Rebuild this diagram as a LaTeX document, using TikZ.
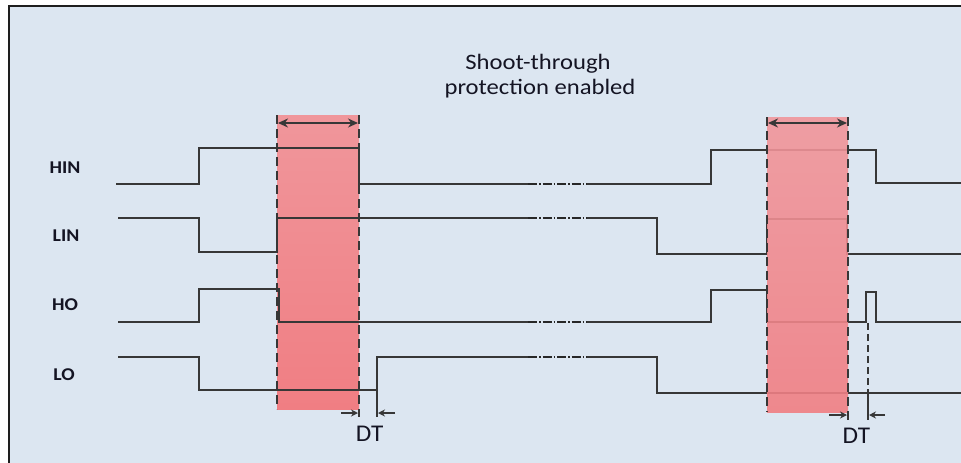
\documentclass[tikz,border=0pt]{standalone}
\usepackage{fontspec}
\setmainfont{Carlito}
\usetikzlibrary{arrows.meta}
\definecolor{bg}{RGB}{220,230,241}
\definecolor{sig}{RGB}{55,55,55}
\definecolor{bandtop}{RGB}{240,150,155}
\definecolor{bandbot}{RGB}{240,126,131}
\definecolor{txt}{RGB}{20,20,35}
\definecolor{frame}{RGB}{30,30,30}
\begin{document}
\begin{tikzpicture}[x=1pt,y=-1pt,
  signal/.style={draw=sig, line width=1.4pt, line join=miter},
  brk/.style={draw=sig!70!black, line width=1.5pt, dash pattern=on 9pt off 2pt on 1.5pt off 2pt},
  bandedge/.style={draw=sig, line width=1.8pt, dash pattern=on 9pt off 5pt},
  bandfill/.style={top color=bandtop, bottom color=bandbot, draw=none},
  span/.style={draw=sig, line width=1.4pt, {Stealth[length=10pt,width=9pt]}-{Stealth[length=10pt,width=9pt]}},
  dtarrow/.style={draw=sig, line width=1.4pt, -{Stealth[length=7pt,width=7pt]}},
  lab/.style={font=\fontsize{18}{20}\selectfont\bfseries, text=txt, inner sep=0pt, anchor=base},
  ttl/.style={font=\fontsize{22}{24}\selectfont, text=txt, inner sep=0pt, anchor=base},
  dtl/.style={font=\fontsize{24}{26}\selectfont, text=txt, inner sep=0pt, anchor=base}
]
\useasboundingbox (0,0) rectangle (961,463);
\fill[white] (0,0) rectangle (961,463);
\fill[bg] (9,6) rectangle (961,463);
\draw[frame, line width=2pt] (9,463) -- (9,6) -- (961,6);

% band 1 (behind signals)
\shade[bandfill] (277,115) rectangle (359,409);

% HIN
\draw[signal] (116,184) -- (199,184) -- (199,148) -- (359,148) -- (359,184) -- (528,184);
\draw[brk] (528,184) -- (587,184);
\draw[signal] (587,184) -- (711,184) -- (711,150) -- (876,150) -- (876,183) -- (961,183);
% LIN
\draw[signal] (118,218) -- (199,218) -- (199,252) -- (277,252) -- (277,218) -- (528,218);
\draw[brk] (528,218) -- (587,218);
\draw[signal] (587,218) -- (657,218) -- (657,254) -- (767,254) -- (767,219) -- (847,219) -- (847,254) -- (961,254);
% HO
\draw[signal] (118,322) -- (199,322) -- (199,289) -- (279,289) -- (279,322) -- (528,322);
\draw[brk] (528,322) -- (587,322);
\draw[signal] (587,322) -- (711,322) -- (711,290) -- (767,290) -- (767,322) -- (866,322) -- (866,292) -- (876,292) -- (876,322) -- (961,322);
% LO
\draw[signal] (118,357) -- (199,357) -- (199,390) -- (377,390) -- (377,357) -- (528,357);
\draw[brk] (528,357) -- (587,357);
\draw[signal] (587,357) -- (657,357) -- (657,393) -- (961,393);
\draw[signal] (377,390) -- (377,417);

% band 2 (over signals)
\shade[bandfill, fill opacity=0.9] (767,117) rectangle (848,412);

% band edges
\draw[bandedge] (277,115) -- (277,409);
\draw[bandedge] (359,115) -- (359,417);
\draw[bandedge] (767,117) -- (767,412);
\draw[bandedge] (848,117) -- (848,420);

% span arrows
\coordinate (s1a) at (278,123); \coordinate (s1b) at (358,123);
\coordinate (s2a) at (768,123); \coordinate (s2b) at (847,123);
\draw[span] (s1a) -- (s1b);
\draw[span] (s2a) -- (s2b);

% DT markers
\draw[bandedge, line width=1.5pt, dash pattern=on 7pt off 4pt] (868,323) -- (868,392);
\draw[signal] (868,392) -- (868,420);
\coordinate (d1a) at (341,413); \coordinate (d1b) at (358,413);
\coordinate (d1c) at (395,413); \coordinate (d1d) at (378,413);
\coordinate (d2a) at (829,415); \coordinate (d2b) at (847,415);
\coordinate (d2c) at (885,415); \coordinate (d2d) at (869,415);
\draw[dtarrow] (d1a) -- (d1b);
\draw[dtarrow] (d1c) -- (d1d);
\draw[dtarrow] (d2a) -- (d2b);
\draw[dtarrow] (d2c) -- (d2d);

% labels
\node[lab] (hin) at (65,173.3) {\scalebox{1.1}[1]{HIN}};
\node[lab] (lin) at (66,241.7) {\scalebox{1.1}[1]{LIN}};
\node[lab] (ho) at (65,310) {\scalebox{1.1}[1]{HO}};
\node[lab] (lo) at (64,380) {\scalebox{1.1}[1]{LO}};
\node[ttl] (t1) at (538,69.5) {\scalebox{1.12}[1]{Shoot-through}};
\node[ttl] (t2) at (540,94) {\scalebox{1.12}[1]{protection enabled}};
\node[dtl] (dt1) at (369.7,441.7) {\scalebox{1.05}[1]{DT}};
\node[dtl] (dt2) at (856.3,443.3) {\scalebox{1.05}[1]{DT}};
\end{tikzpicture}
\end{document}
